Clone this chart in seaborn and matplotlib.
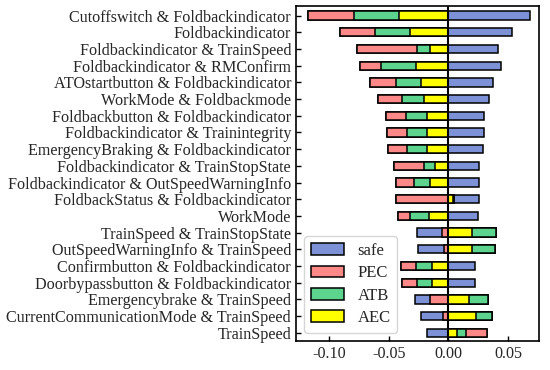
import numpy as np
import matplotlib
matplotlib.use("Agg")
import matplotlib.pyplot as plt
from matplotlib.patches import Patch
import seaborn as sns

features = [
    "Cutoffswitch & Foldbackindicator",
    "Foldbackindicator",
    "Foldbackindicator & TrainSpeed",
    "Foldbackindicator & RMConfirm",
    "ATOstartbutton & Foldbackindicator",
    "WorkMode & Foldbackmode",
    "Foldbackbutton & Foldbackindicator",
    "Foldbackindicator & Trainintegrity",
    "EmergencyBraking & Foldbackindicator",
    "Foldbackindicator & TrainStopState",
    "Foldbackindicator & OutSpeedWarningInfo",
    "FoldbackStatus & Foldbackindicator",
    "WorkMode",
    "TrainSpeed & TrainStopState",
    "OutSpeedWarningInfo & TrainSpeed",
    "Confirmbutton & Foldbackindicator",
    "Doorbypassbutton & Foldbackindicator",
    "Emergencybrake & TrainSpeed",
    "CurrentCommunicationMode & TrainSpeed",
    "TrainSpeed",
]

# signed contribution of each class
safe = [0.0684, 0.0530, 0.0419, 0.0438, 0.0377, 0.0341, 0.0302, 0.0299, 0.0290, 0.0257,
        0.0254, 0.0209, 0.0251, -0.0215, -0.0218, 0.0226, 0.0226, -0.0126, -0.0187, -0.0181]
pec = [-0.0385, -0.0299, -0.0508, -0.0173, -0.0215, -0.0201, -0.0170, -0.0168, -0.0162, -0.0251,
       -0.0145, -0.0436, -0.0106, -0.0050, -0.0039, -0.0126, -0.0126, -0.0154, -0.0042, 0.0176]
atb = [-0.0380, -0.0293, -0.0109, -0.0299, -0.0209, -0.0181, -0.0170, -0.0168, -0.0170, -0.0095,
       -0.0142, 0.0008, -0.0156, 0.0198, 0.0193, -0.0134, -0.0131, 0.0165, 0.0137, 0.0078]
aec = [-0.0416, -0.0321, -0.0151, -0.0268, -0.0232, -0.0209, -0.0184, -0.0181, -0.0179, -0.0114,
       -0.0151, 0.0036, -0.0165, 0.0198, 0.0198, -0.0134, -0.0134, 0.0170, 0.0232, 0.0070]

colors = {"safe": "#7d92d6", "PEC": "#fd8888", "ATB": "#5cd48e", "AEC": "#ffff00"}

sns.set_style("ticks")
plt.rcParams["font.family"] = ["Liberation Serif", "DejaVu Serif"]
plt.rcParams["axes.unicode_minus"] = False
plt.rcParams["xtick.direction"] = "in"
plt.rcParams["ytick.direction"] = "in"

fig, ax = plt.subplots(figsize=(5.5, 3.7), dpi=100)
fig.subplots_adjust(left=0.538, right=0.98, top=0.984, bottom=0.078)

# stacking order from zero outward: AEC, ATB, PEC, safe
stack = [("AEC", np.array(aec)), ("ATB", np.array(atb)), ("PEC", np.array(pec)), ("safe", np.array(safe))]
for side in (np.maximum, np.minimum):
    parts = [(name, side(vals, 0)) for name, vals in stack]
    cums = np.cumsum([p for _, p in parts], axis=0)
    # draw outermost first so inner segments cover it
    for (name, _), cum in reversed(list(zip(parts, cums))):
        sns.barplot(x=cum, y=features, order=features, orient="h", color=colors[name],
                    saturation=1, edgecolor="black", linewidth=1.1, width=0.5,
                    errorbar=None, ax=ax)

ax.axvline(0, color="black", lw=1.5, zorder=5)
ax.set_xlim(-0.128, 0.076)
ax.set_ylim(19.5, -0.58)
ax.set_xticks([-0.10, -0.05, 0.00, 0.05])
ax.set_xticklabels(["-0.10", "-0.05", "0.00", "0.05"])
ax.set_xlabel("")
ax.set_ylabel("")
ax.tick_params(axis="both", labelsize=11.6, color="black", width=1)
ax.tick_params(axis="y", pad=3.5)
for sp in ax.spines.values():
    sp.set_visible(True)
    sp.set_color("black")
    sp.set_linewidth(1.2)

handles = [Patch(facecolor=colors[n], edgecolor="black", linewidth=1.1, label=n)
           for n in ["safe", "PEC", "ATB", "AEC"]]
ax.legend(handles=handles, loc="lower left", fontsize=12, labelspacing=0.38, frameon=True)

fig.savefig("out.png", dpi=100)
